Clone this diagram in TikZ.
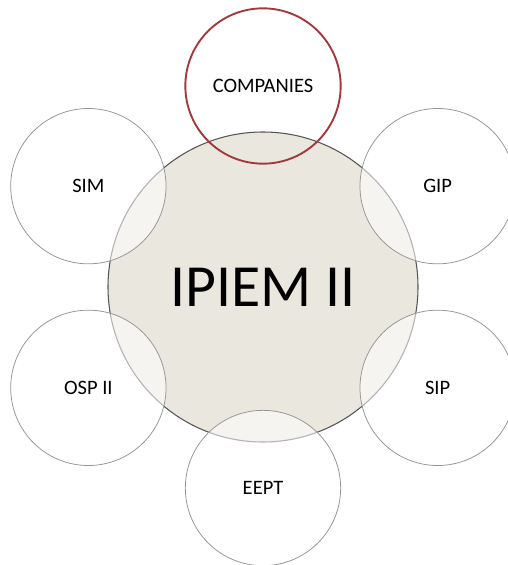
\documentclass[tikz,border=0pt]{standalone}
\usepackage{fontspec}
\setmainfont{Carlito}
\usepackage{xcolor}
\usepackage{tikz}
\usetikzlibrary{calc}

\definecolor{hubfill}{HTML}{EAE7DE}
\definecolor{hubline}{HTML}{555555}
\definecolor{satline}{HTML}{959595}
\definecolor{compred}{HTML}{A3373A}

\tikzset{
  hub/.style = {circle, draw=hubline, line width=0.9pt, fill=hubfill,
                minimum size=9.3cm, inner sep=0pt, font=\fontsize{51}{51}\selectfont},
  sat/.style = {circle, draw=satline, line width=0.65pt, fill=white, fill opacity=0.55,
                text opacity=1, minimum size=4.66cm, inner sep=0pt,
                font=\fontsize{17.5}{19}\selectfont},
}

\begin{document}
\begin{tikzpicture}
    \useasboundingbox (0,0) rectangle (15.21,-16.95);
    \node[hub] (ipiem) at (7.89,-8.61) {IPIEM II};

    % satellites round the hub
    \node[sat, fill=none, draw=compred, line width=1.6pt] (comp) at ($(ipiem.center)+(90:6.03)$) {COMPANIES};
    \node[sat] (sim)  at ($(ipiem.center)+(150:6.05)$) {SIM};
    \node[sat] (gip)  at ($(ipiem.center)+(30:6.05)$)  {GIP};
    \node[sat] (osp)  at ($(ipiem.center)+(210:6.05)$) {OSP II};
    \node[sat] (sip)  at ($(ipiem.center)+(330:6.05)$) {SIP};
    \node[sat] (eept) at ($(ipiem.center)+(270:6.03)$) {EEPT};
\end{tikzpicture}
\end{document}
